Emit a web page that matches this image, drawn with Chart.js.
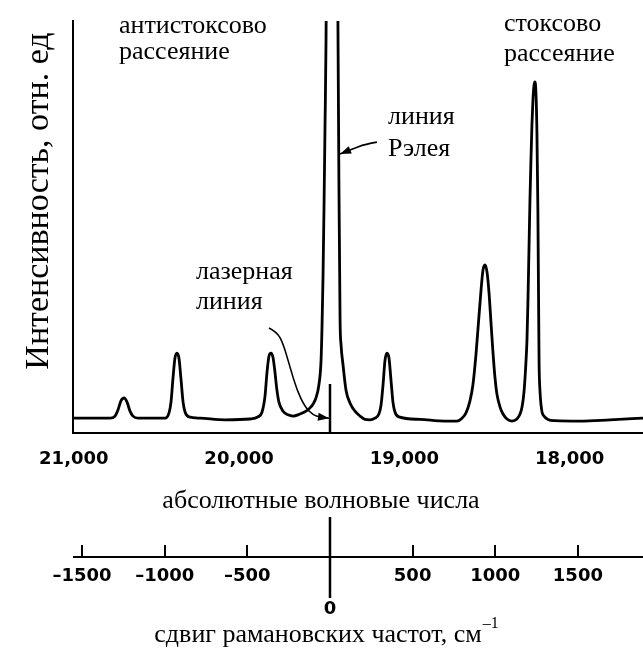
<!DOCTYPE html>
<html>
<head>
<meta charset="utf-8">
<script src="https://cdn.jsdelivr.net/npm/chart.js@4.4.1/dist/chart.umd.min.js"></script>
<style>
  html, body { margin: 0; padding: 0; background: #fff; }
  canvas { display: block; }
</style>
</head>
<body>
<canvas id="ramanChart" width="643" height="654"></canvas>
<script>
// Спектр: рамановский сдвиг (см-1) и интенсивность (отн. ед.)
const ramanShift = [
  -1555, -1422, -1331, -1301, -1283, -1265, -1246, -1228, -1210, -1192, -1162,
  -1059, -998, -974, -962, -950, -938, -926, -914, -902, -889, -877, -853,
  -787, -635, -484, -436, -411, -393, -381, -369, -357, -345, -333, -321, -309,
  -284, -254, -224, -182, -145, -121, -103, -85, -67, -54, -48, -42, -36, -30, -24,
  12,
  48, 54, 61, 67, 79, 97, 121, 151, 182, 212, 242, 272, 296, 309, 321, 333, 345, 357, 369, 381, 393, 417,
  545, 696, 768, 799, 823, 847, 865, 883, 895, 914, 926, 938, 950, 962, 974, 986, 998, 1010, 1029, 1047, 1071,
  1101, 1131, 1150, 1162, 1174, 1183, 1192, 1198, 1204, 1210, 1216, 1222, 1228, 1234, 1240, 1246, 1252, 1258,
  1265, 1271, 1277, 1283, 1295, 1319, 1361, 1513, 1694, 1894,
];

const intensity = [
  3.6, 3.6, 3.6, 4.1, 5.6, 7.8, 8.5, 7.5, 5.3, 4.1, 3.6,
  3.6, 3.6, 4.9, 7.5, 13.3, 18.2, 19.4, 18.2, 13.3, 7.5, 5.1, 3.9,
  3.6, 3.2, 3.4, 3.9, 5.1, 9.0, 14.8, 18.7, 19.4, 18.4, 14.8, 10.4, 7.5,
  5.3, 4.4, 4.1, 4.6, 5.3, 6.1, 7.0, 8.5, 11.7, 17.7, 26.2, 38.3, 55.3, 74.8, 95.4,
  400,
  99.8, 61.4, 27.4, 21.4, 16.5, 10.4, 7.3, 5.3, 4.1, 3.3, 3.2, 3.6, 4.6, 6.8, 11.7, 17.7, 19.4, 18.2, 12.9, 7.5, 5.1, 3.9,
  3.3, 2.9, 2.9, 3.6, 4.9, 7.8, 11.7, 18.9, 25.0, 34.7, 39.6, 40.8, 39.1, 34.2, 26.9, 19.7, 13.6, 9.5, 6.3, 4.6, 3.4,
  2.9, 3.4, 4.6, 6.3, 10.0, 15.3, 22.6, 32.3, 44.4, 56.6, 66.3, 74.8, 80.8, 84.2, 85.2, 82.8, 73.5, 54.1,
  17.7, 10.0, 6.8, 5.1, 4.1, 3.3, 3.0, 2.9, 3.2, 3.6,
];

// лазерная линия (вертикальная метка)
const laserShift = [0, 0];
const laserLevel = [0, 11.9];

// шкалы
const laserWavenumber = 19450;
const wavenumberTicks = [21000, 20000, 19000, 18000];
const shiftTicks = [-1500, -1000, -500, 0, 500, 1000, 1500];
const shiftMin = -1555;
const shiftMax = 1894;

// подписи на графике: [текст, сдвиг, интенсивность]
const notes = [
  ["антистоксово", -1277, 97.1],
  ["рассеяние", -1277, 90.8],
  ["стоксово", 1053, 97.6],
  ["рассеяние", 1053, 90.3],
  ["линия", 351, 75.0],
  ["Рэлея", 351, 67.2],
  ["лазерная", -811, 37.4],
  ["линия", -811, 30.1],
];

const rayleighArrow = [[284, 70.6], [212, 70.1], [133, 68.9], [61, 67.7]];
const laserArrow = [
  [-369, 25.5], [-321, 24.5], [-284, 21.8], [-242, 16.0], [-200, 10.4],
  [-151, 6.3], [-103, 4.4], [-61, 3.9], [-6, 3.6],
];

const tickFont = { family: "DejaVu Sans", size: 18, weight: "bold" };
const serif = '"Liberation Serif", "Times New Roman", serif';

function drawArrow(ctx, pts) {
  ctx.beginPath();
  ctx.moveTo(pts[0][0], pts[0][1]);
  for (let i = 1; i < pts.length - 1; i++) {
    const mx = (pts[i][0] + pts[i + 1][0]) / 2;
    const my = (pts[i][1] + pts[i + 1][1]) / 2;
    ctx.quadraticCurveTo(pts[i][0], pts[i][1], mx, my);
  }
  const [ex, ey] = pts[pts.length - 1];
  const [bx, by] = pts[pts.length - 2];
  ctx.lineTo(ex, ey);
  ctx.stroke();

  const a = Math.atan2(ey - by, ex - bx);
  const len = 11;
  const w = 4;
  ctx.beginPath();
  ctx.moveTo(ex, ey);
  ctx.lineTo(ex - len * Math.cos(a) + w * Math.sin(a), ey - len * Math.sin(a) - w * Math.cos(a));
  ctx.lineTo(ex - len * Math.cos(a) - w * Math.sin(a), ey - len * Math.sin(a) + w * Math.cos(a));
  ctx.closePath();
  ctx.fill();
}

const annotations = {
  id: "annotations",
  afterDraw(chart) {
    const { ctx } = chart;
    const { x, y, x2 } = chart.scales;
    const px = (p) => [x.getPixelForValue(p[0]), y.getPixelForValue(p[1])];

    ctx.save();
    ctx.fillStyle = "#000";
    ctx.strokeStyle = "#000";

    // подписи
    ctx.font = "26px " + serif;
    ctx.textAlign = "left";
    ctx.textBaseline = "alphabetic";
    notes.forEach((n) => {
      const [tx, ty] = px([n[1], n[2]]);
      ctx.fillText(n[0], tx, ty);
    });

    // стрелки
    ctx.lineWidth = 1.6;
    drawArrow(ctx, rayleighArrow.map(px));
    drawArrow(ctx, laserArrow.map(px));

    // подпись оси Y
    ctx.save();
    ctx.translate(48, 201);
    ctx.rotate(-Math.PI / 2);
    ctx.textAlign = "center";
    ctx.font = "34px " + serif;
    ctx.fillText("Интенсивность, отн. ед", 0, 0);
    ctx.restore();

    // нижняя ось: линия, ноль, подписи
    const axisY = x2.top + 12;
    ctx.lineWidth = 2;
    ctx.beginPath();
    ctx.moveTo(x2.left, axisY);
    ctx.lineTo(x2.right, axisY);
    ctx.stroke();

    const zx = x2.getPixelForValue(0);
    ctx.lineWidth = 2.5;
    ctx.beginPath();
    ctx.moveTo(zx, 517);
    ctx.lineTo(zx, 598);
    ctx.stroke();

    ctx.font = "bold 18px 'DejaVu Sans'";
    ctx.textAlign = "center";
    ctx.textBaseline = "middle";
    ctx.fillText("0", zx, 609);

    ctx.font = "26px " + serif;
    ctx.textBaseline = "alphabetic";
    ctx.fillText("абсолютные волновые числа", 321, 508);

    const main = "сдвиг рамановских частот, см";
    const wMain = ctx.measureText(main).width;
    const left = 318 - wMain / 2;
    ctx.textAlign = "left";
    ctx.fillText(main, left, 642);
    ctx.font = "16px " + serif;
    ctx.fillText("–1", left + wMain + 1, 628);

    ctx.restore();
  },
};

new Chart(document.getElementById("ramanChart"), {
  type: "line",

  data: {
    datasets: [
      {
        label: "спектр",
        data: ramanShift.map((s, i) => ({ x: s, y: intensity[i] })),
        borderColor: "#000",
        borderWidth: 2.8,
        pointRadius: 0,
        cubicInterpolationMode: "monotone",
        fill: false,
      },
      {
        label: "лазерная линия",
        data: laserShift.map((s, i) => ({ x: s, y: laserLevel[i] })),
        borderColor: "#000",
        borderWidth: 2.5,
        pointRadius: 0,
        tension: 0,
      },
    ],
  },

  options: {
    responsive: false,
    animation: false,
    layout: { padding: { top: 21, left: 0, right: 0, bottom: 0 } },

    plugins: {
      legend: { display: false },
      tooltip: { enabled: false },
    },

    scales: {
      x: {
        type: "linear",
        position: "bottom",
        weight: 0,
        min: shiftMin,
        max: shiftMax,
        afterFit: (scale) => { scale.height = 112; },
        afterBuildTicks: (scale) => {
          scale.ticks = wavenumberTicks.map((w) => ({ value: laserWavenumber - w }));
        },
        grid: { display: false, drawTicks: false },
        border: { display: true, color: "#000", width: 2 },
        ticks: {
          autoSkip: false,
          maxRotation: 0,
          padding: 16,
          color: "#000",
          font: tickFont,
          callback: (value, index) => wavenumberTicks[index].toLocaleString("en-US"),
        },
      },

      x2: {
        type: "linear",
        position: "bottom",
        weight: 1,
        min: shiftMin,
        max: shiftMax,
        afterFit: (scale) => { scale.height = 109; },
        afterBuildTicks: (scale) => {
          scale.ticks = shiftTicks.map((v) => ({ value: v }));
        },
        grid: {
          display: true,
          drawOnChartArea: false,
          drawTicks: true,
          tickLength: 12,
          color: "#000",
          lineWidth: 2,
        },
        border: { display: false },
        ticks: {
          autoSkip: false,
          maxRotation: 0,
          padding: 9,
          color: "#000",
          font: tickFont,
          callback: (value) => (value === 0 ? "" : value < 0 ? "–" + Math.abs(value) : String(value)),
        },
      },

      y: {
        min: 0,
        max: 100,
        afterFit: (scale) => { scale.width = 73; },
        grid: { display: false, drawTicks: false },
        border: { display: true, color: "#000", width: 2 },
        ticks: { display: false },
      },
    },
  },

  plugins: [annotations],
});
</script>
</body>
</html>
